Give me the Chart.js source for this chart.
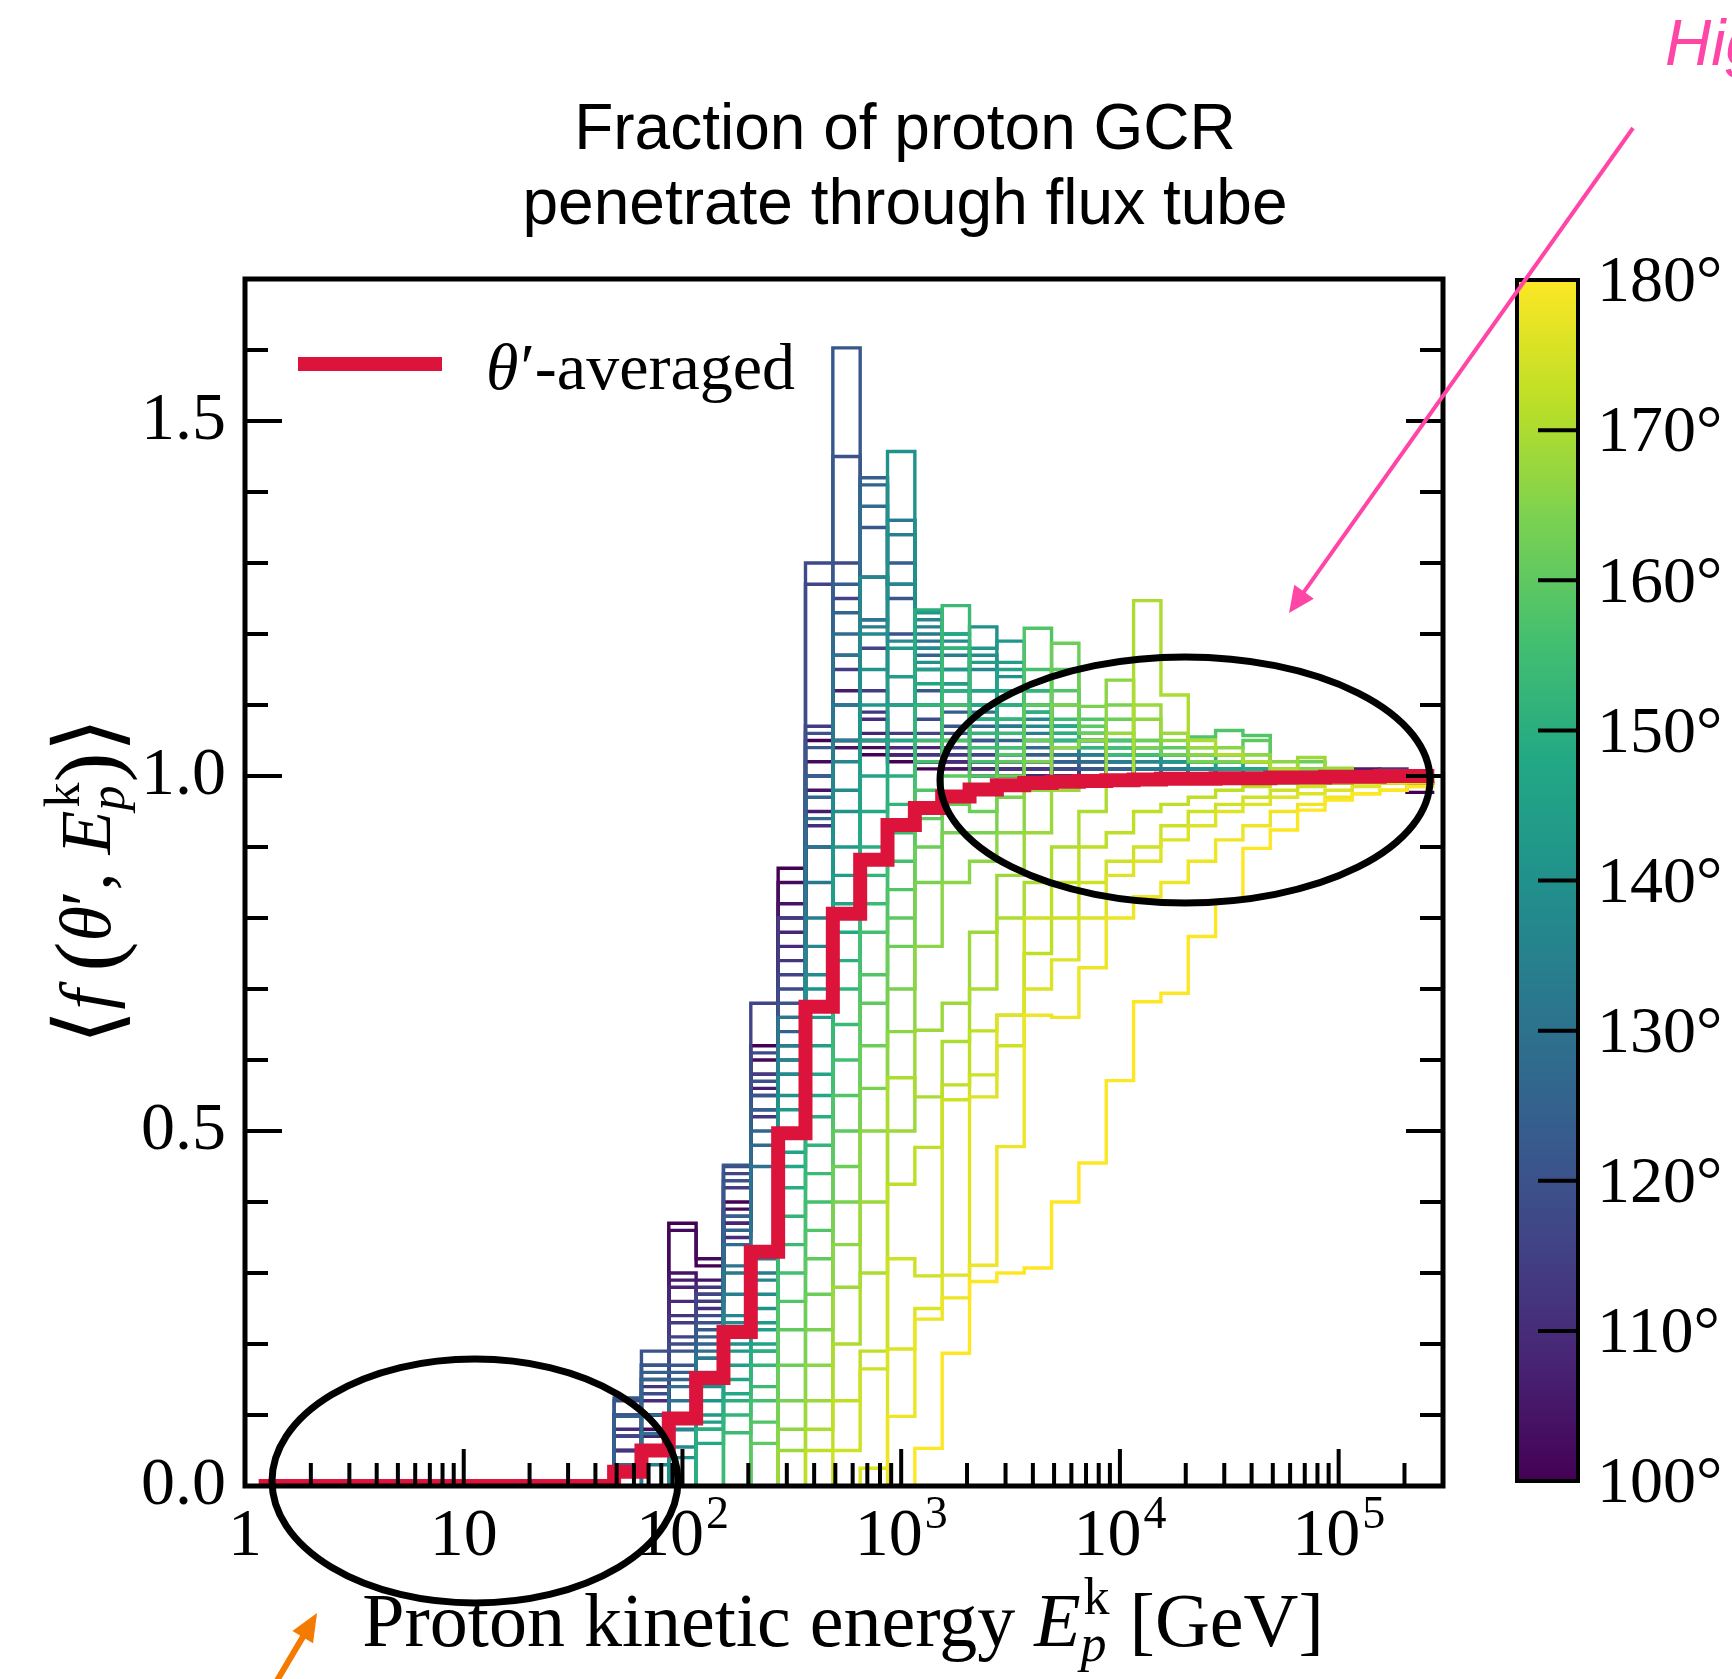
<!DOCTYPE html>
<html>
<head>
<meta charset="utf-8">
<title>Fraction of proton GCR penetrate through flux tube</title>
<script src="https://cdn.jsdelivr.net/npm/chart.js@4.4.1/dist/chart.umd.min.js"></script>
<style>
html,body{margin:0;padding:0;background:#ffffff;overflow:hidden;}
canvas{display:block;}
</style>
</head>
<body>
<canvas id="chart" width="1732" height="1679"></canvas>
<script>
// ================= DATA =================
// Energy bin edges [GeV] (8 bins per decade)
const binEdgesGeV = [
  1.1548, 1.5399, 2.0535, 2.7384, 3.6517, 4.8697, 6.4938, 8.6596,
  11.548, 15.399, 20.535, 27.384, 36.517, 48.697, 64.938, 86.596,
  115.48, 153.99, 205.35, 273.84, 365.17, 486.97, 649.38, 865.96,
  1154.8, 1539.9, 2053.5, 2738.4, 3651.7, 4869.7, 6493.8, 8659.6,
  11548, 15399, 20535, 27384, 36517, 48697, 64938, 86596,
  115480, 153990, 205350, 273840
];

// theta'-averaged fraction, one value per bin (43 bins)
const averagedFraction = [
  0,0,0,0,0,0,0,0,0,0,0,0,0,
  0.02,0.05,0.095,0.152,0.217,0.33,0.497,0.675,0.806,0.882,
  0.931,0.955,0.971,0.981,0.987,0.99,0.992,0.993,0.994,0.995,
  0.996,0.996,0.997,0.997,0.998,0.998,0.999,0.999,1.0,1.0
];

// theta' values of the individual curves [deg]
const thetaPrimeDeg = [100,102,104,106,108,110,112,114,116,118,120,122,124,126,128,130,
  132,134,136,138,140,142,144,146,148,150,152,154,156,158,160,162,164,166,168,170,
  172,174,176,178,180];

// individual curves list bins 13..43 (all curves are zero below bin 13)
const firstCurveBin = 13;
const f100 = [0,.07,.10,.37,.31,.40,.62,.87,1.05,1.04,1.03,1.02,1.01,1.02,1.01,1.00,1.00,1.01,1.00,.99,1.00,1.01,1.00,1.00,.99,1.00,1.00,1.01,1.00,1.00,.977];
const f102 = [0,.05,.08,.36,.32,.39,.60,.85,1.02,1.05,1.04,1.03,1.02,1.01,1.00,1.01,1.00,1.00,1.01,1.00,1.00,.99,1.00,1.01,1.00,1.00,1.00,.99,1.00,1.00,.99];
const f104 = [0,.07,.05,.30,.29,.37,.58,.82,.98,1.04,1.05,1.03,1.02,1.01,1.02,1.00,1.01,1.00,1.00,1.00,1.01,1.00,.99,1.00,1.00,1.01,1.00,1.00,1.00,.99,1.00];
const f106 = [0,.05,.10,.29,.27,.36,.56,.80,.95,1.12,1.05,1.04,1.02,1.03,1.01,1.01,1.00,1.00,1.00,1.01,1.00,1.00,1.00,.99,1.00,1.00,1.00,1.00,1.01,1.00,1.00];
const f108 = [0,.03,.07,.28,.26,.37,.55,.78,1.00,1.17,1.06,1.03,1.04,1.02,1.02,1.01,1.01,1.00,1.00,1.00,1.00,1.01,1.00,1.00,1.00,.99,1.00,1.00,1.00,1.00,1.00];
const f110 = [0,.08,.12,.26,.25,.35,.53,.76,.93,1.05,1.08,1.04,1.03,1.02,1.01,1.02,1.00,1.01,1.00,1.00,1.00,1.00,1.01,1.00,1.00,1.00,1.00,.99,1.00,1.00,1.00];
const f112 = [0,.05,.14,.24,.28,.38,.52,.74,.90,1.10,1.09,1.05,1.03,1.04,1.02,1.01,1.01,1.00,1.00,1.00,1.01,1.00,1.00,1.00,1.00,1.01,1.00,1.00,1.00,1.00,1.00];
const f114 = [0,.10,.15,.23,.26,.42,.58,.80,1.07,1.15,1.12,1.06,1.05,1.03,1.03,1.02,1.01,1.01,1.00,1.00,1.00,1.00,1.01,1.00,1.00,1.00,1.00,1.00,1.00,1.01,1.00];
const f116 = [0,.07,.17,.21,.27,.44,.68,.72,1.27,1.25,1.18,1.10,1.06,1.04,1.03,1.02,1.02,1.01,1.01,1.00,1.00,1.00,1.00,1.01,1.00,1.00,1.00,1.00,1.00,1.00,1.00];
const f118 = [0,.12,.13,.20,.24,.45,.61,.70,1.30,1.30,1.22,1.14,1.08,1.05,1.04,1.03,1.02,1.01,1.01,1.01,1.00,1.00,1.00,1.00,1.00,1.01,1.00,1.00,1.00,1.00,1.00];
const f120 = [0,.10,.19,.19,.23,.43,.57,.68,1.06,1.45,1.28,1.20,1.10,1.06,1.05,1.03,1.02,1.02,1.01,1.01,1.00,1.00,1.00,1.00,1.00,1.00,1.00,1.01,1.00,1.00,1.00];
const f122 = [0,.124,.17,.17,.22,.452,.55,.66,1.04,1.603,1.35,1.25,1.12,1.07,1.05,1.04,1.03,1.02,1.01,1.01,1.00,1.00,1.00,1.00,1.00,1.00,1.00,1.00,1.00,1.00,1.00];
const f124 = [0,.098,.16,.16,.21,.38,.53,.64,1.00,1.27,1.42,1.30,1.15,1.09,1.06,1.04,1.03,1.02,1.02,1.01,1.01,1.00,1.00,1.00,1.00,1.00,1.00,1.00,1.00,1.00,1.00];
const f126 = [0,.03,.15,.15,.20,.36,.50,.62,.97,1.23,1.41,1.34,1.17,1.10,1.07,1.05,1.04,1.03,1.02,1.01,1.01,1.00,1.00,1.00,1.00,1.00,1.00,1.00,1.00,1.00,1.00];
const f128 = [0,.03,.10,.14,.19,.34,.48,.60,.94,1.20,1.38,1.36,1.18,1.12,1.08,1.06,1.04,1.03,1.02,1.02,1.01,1.00,1.00,1.00,1.00,1.00,1.00,1.00,1.00,1.00,1.00];
const f130 = [0,0,.074,.12,.18,.31,.45,.58,.90,1.17,1.28,1.27,1.19,1.13,1.09,1.07,1.05,1.03,1.03,1.02,1.01,1.01,1.00,1.00,1.00,1.00,1.00,1.00,1.00,1.00,1.00];
const f132 = [0,0,.05,.10,.18,.30,.32,.66,.85,1.10,1.22,1.36,1.20,1.15,1.10,1.07,1.05,1.04,1.03,1.02,1.01,1.01,1.00,1.00,1.00,1.00,1.00,1.00,1.00,1.00,1.00];
const f134 = [0,0,.03,.08,.16,.27,.30,.62,.80,1.05,1.21,1.34,1.21,1.17,1.12,1.08,1.06,1.04,1.03,1.02,1.02,1.01,1.01,1.00,1.00,1.00,1.00,1.00,1.00,1.00,1.00];
const f136 = [0,0,0,.079,.15,.24,.29,.60,.76,1.02,1.28,1.27,1.22,1.18,1.15,1.10,1.07,1.05,1.04,1.03,1.02,1.02,1.01,1.01,1.00,1.00,1.00,1.00,1.00,1.00,1.00];
const f138 = [0,0,0,.055,.14,.23,.27,.58,.72,.98,1.20,1.19,1.18,1.19,1.17,1.12,1.08,1.06,1.04,1.03,1.03,1.02,1.01,1.01,1.00,1.00,1.00,1.00,1.00,1.00,1.00];
const f140 = [0,0,0,.04,.12,.20,.25,.55,.70,.95,1.15,1.457,1.16,1.20,1.21,1.14,1.10,1.07,1.05,1.04,1.03,1.02,1.02,1.01,1.01,1.00,1.00,1.00,1.00,1.00,1.00];
const f142 = [0,0,0,0,.10,.19,.23,.53,.66,.90,1.10,1.18,1.23,1.15,1.18,1.19,1.09,1.06,1.05,1.04,1.03,1.02,1.02,1.01,1.01,1.00,1.00,1.00,1.00,1.00,1.00];
const f144 = [0,0,0,0,.09,.17,.22,.50,.62,.86,1.05,1.14,1.15,1.13,1.16,1.16,1.10,1.07,1.05,1.04,1.03,1.03,1.02,1.01,1.01,1.00,1.00,1.00,1.00,1.00,1.00];
const f146 = [0,0,0,0,.08,.15,.20,.47,.58,.82,1.00,1.10,1.13,1.12,1.12,1.15,1.12,1.05,1.06,1.04,1.03,1.03,1.02,1.02,1.01,1.00,1.00,1.00,1.00,1.00,1.00];
const f148 = [0,0,0,0,.06,.13,.19,.45,.55,.78,.95,1.05,1.10,1.20,1.10,1.12,1.10,1.07,1.05,1.05,1.04,1.03,1.02,1.02,1.01,1.00,1.00,1.00,1.00,1.00,1.00];
const f150 = [0,0,0,0,.08,.12,.19,.42,.52,.74,.90,1.00,1.234,1.12,1.08,1.10,1.09,1.06,1.06,1.05,1.04,1.03,1.03,1.02,1.02,1.01,1.01,1.00,1.00,1.00,1.00];
const f152 = [0,0,0,0,0,.10,.17,.38,.48,.70,.86,.96,1.10,1.18,1.06,1.08,1.12,1.05,1.04,1.04,1.04,1.03,1.03,1.02,1.02,1.01,1.01,1.01,1.00,1.00,1.00];
const f154 = [0,0,0,0,0,.075,.14,.34,.44,.65,.82,.92,1.05,1.24,1.04,1.06,1.10,1.08,1.05,1.03,1.03,1.04,1.03,1.03,1.02,1.01,1.01,1.00,1.00,1.00,1.00];
const f156 = [0,0,0,0,0,0,.12,.30,.40,.60,.78,.88,1.02,1.10,1.02,1.04,1.15,1.10,1.06,1.04,1.03,1.03,1.04,1.03,1.02,1.01,1.00,1.00,1.00,1.00,1.00];
const f158 = [0,0,0,0,0,0,.09,.26,.36,.55,.72,.84,.98,1.05,1.00,1.03,1.208,1.12,1.08,1.05,1.04,1.03,1.055,1.064,1.057,1.01,1.01,1.00,1.00,1.00,1.00];
const f160 = [0,0,0,0,0,0,.06,.22,.32,.50,.68,.80,.94,1.00,.98,1.02,1.10,1.15,1.07,1.06,1.05,1.04,1.04,1.04,1.05,1.01,1.00,1.00,1.00,1.00,1.00];
const f162 = [0,0,0,0,0,0,0,.17,.27,.45,.62,.76,.90,.96,.95,1.00,1.05,1.187,1.06,1.08,1.05,1.03,1.03,1.03,1.03,1.01,1.02,1.01,1.00,1.00,1.00];
const f164 = [0,0,0,0,0,0,0,.12,.22,.40,.56,.70,.85,.92,.92,.97,1.02,1.10,1.098,1.10,1.04,1.06,1.02,1.02,1.02,1.01,1.01,1.00,1.00,1.00,1.00];
const f166 = [0,0,0,0,0,0,0,.08,.17,.34,.50,.64,.76,.85,.88,.92,.98,1.04,1.05,1.135,1.08,1.05,1.03,1.04,1.03,1.02,1.01,1.01,1.00,1.00,1.00];
const f168 = [0,0,0,0,0,0,0,.05,.12,.28,.40,.50,.642,.68,.78,.86,.92,.98,1.00,1.06,1.10,1.06,1.04,1.03,1.02,1.01,1.026,1.011,1.005,1.00,1.00];
const f170 = [0,0,0,0,0,0,0,0,.08,.20,.30,.575,.548,.626,.70,.80,.85,.90,.95,1.00,1.247,1.114,1.05,1.03,1.02,1.01,1.00,1.00,1.00,.99,1.00];
const f172 = [0,0,0,0,0,0,0,0,.05,.12,.19,.425,.477,.565,.641,.663,.75,.85,.90,.92,.95,.96,.97,.98,.985,.99,.99,.995,1.00,1.00,1.00];
const f174 = [0,0,0,0,0,0,0,0,0,.05,.165,.32,.296,.544,.579,.62,.80,.80,.85,.88,.90,.93,.95,.96,.97,.98,.985,.99,.99,.995,.995];
const f176 = [0,0,0,0,0,0,0,0,0,0,.025,.193,.25,.297,.548,.663,.70,.741,.80,.86,.88,.91,.93,.95,.96,.97,.975,.98,.985,.99,.99];
const f178 = [0,0,0,0,0,0,0,0,0,0,0,.098,.235,.265,.311,.478,.663,.66,.73,.80,.83,.85,.88,.91,.93,.95,.96,.97,.975,.98,.985];
const f180 = [0,0,0,0,0,0,0,0,0,0,0,0,.053,.187,.288,.30,.307,.40,.455,.571,.682,.694,.774,.825,.898,.924,.952,.966,.975,.98,.985];
const thetaCurves = [f100,f102,f104,f106,f108,f110,f112,f114,f116,f118,f120,f122,f124,f126,f128,f130,
  f132,f134,f136,f138,f140,f142,f144,f146,f148,f150,f152,f154,f156,f158,f160,f162,f164,f166,f168,f170,
  f172,f174,f176,f178,f180];

// axis / tick labels
const yMajorTicks = [0, 0.5, 1.0, 1.5];
const yTickLabels = ['0.0', '0.5', '1.0', '1.5'];
const xMajorTicks = [1, 10, 100, 1000, 10000, 100000];
const xTickMantissa = ['1', '10', '10', '10', '10', '10'];
const xTickExponent = ['', '', '2', '3', '4', '5'];
const xMinorMultipliers = [2, 3, 4, 5, 6, 7, 8, 9];
const colorbarTicksDeg = [100, 110, 120, 130, 140, 150, 160, 170, 180];
const colorbarRange = [100, 180];
const titleLines = ['Fraction of proton GCR', 'penetrate through flux tube'];
const legendText = '-averaged';
const annotationText = 'High';

// ================= STYLE =================
const SERIF = '"Liberation Serif", "DejaVu Serif", serif';
const SANS = '"Liberation Sans", Arial, sans-serif';
const VIRIDIS = ['#440154','#482475','#414487','#355f8d','#2a788e','#21918c','#22a884','#44bf70','#7ad151','#bddf26','#fde725'];
function hexRgb(h){ return [parseInt(h.substr(1,2),16), parseInt(h.substr(3,2),16), parseInt(h.substr(5,2),16)]; }
function viridis(t){
  t = Math.max(0, Math.min(1, t));
  const s = t * 10, i = Math.min(9, Math.floor(s)), f = s - i;
  const a = hexRgb(VIRIDIS[i]), b = hexRgb(VIRIDIS[i+1]);
  return 'rgb(' + [0,1,2].map(k => Math.round(a[k] + (b[k]-a[k])*f)).join(',') + ')';
}
const RED = '#dc143c';

// ================= DATASETS =================
// each value holds from its bin's left edge to the next edge
const datasets = [];
const startIdx = firstCurveBin - 1;
thetaCurves.forEach((vals, i) => {
  const pts = vals.map((v, j) => ({x: binEdgesGeV[startIdx + j], y: v}));
  pts.push({x: binEdgesGeV[startIdx + vals.length], y: vals[vals.length - 1]});
  datasets.push({
    label: thetaPrimeDeg[i] + '°',
    data: pts,
    borderColor: viridis((thetaPrimeDeg[i] - colorbarRange[0]) / (colorbarRange[1] - colorbarRange[0])),
    borderWidth: 3.4,
    stepped: 'before',
    pointRadius: 0,
    fill: false,
    clip: 0,
    order: thetaCurves.length - i + 1
  });
});
const avgPts = averagedFraction.map((v, i) => ({x: binEdgesGeV[i], y: v}));
avgPts.push({x: binEdgesGeV[averagedFraction.length], y: averagedFraction[averagedFraction.length - 1]});
datasets.push({
  label: "θ′-averaged",
  data: avgPts,
  borderColor: RED,
  borderWidth: 14,
  stepped: 'before',
  pointRadius: 0,
  fill: false,
  clip: 0,
  order: 0
});

// ================= DRAW HELPERS =================
function measureParts(ctx, parts){
  return parts.map(p => {
    if (p.sup !== undefined) {
      ctx.font = p.supFont; const a = ctx.measureText(p.sup).width;
      ctx.font = p.subFont; const b = ctx.measureText(p.sub).width;
      return Math.max(a, b) + (p.pad || 0);
    }
    ctx.font = p.font; return ctx.measureText(p.text).width;
  });
}
function drawParts(ctx, parts, cx, baseY){
  const ws = measureParts(ctx, parts);
  const tot = ws.reduce((s, w) => s + w, 0);
  let x = cx - tot / 2;
  ctx.textAlign = 'left'; ctx.textBaseline = 'alphabetic';
  parts.forEach((p, i) => {
    if (p.sup !== undefined) {
      ctx.font = p.supFont; ctx.fillText(p.sup, x + (p.supDx || 0), baseY + p.supDy);
      ctx.font = p.subFont; ctx.fillText(p.sub, x, baseY + p.subDy);
    } else {
      ctx.font = p.font; ctx.fillText(p.text, x, baseY + (p.dy || 0));
    }
    x += ws[i];
  });
}
function arrow(ctx, x0, y0, x1, y1, lw, headLen, headHalf, color){
  const dx = x1 - x0, dy = y1 - y0, L = Math.hypot(dx, dy), ux = dx / L, uy = dy / L;
  const bx = x1 - ux * headLen, by = y1 - uy * headLen;
  ctx.save();
  ctx.strokeStyle = color; ctx.fillStyle = color; ctx.lineWidth = lw; ctx.lineCap = 'butt';
  ctx.beginPath(); ctx.moveTo(x0, y0); ctx.lineTo(bx + ux * 2, by + uy * 2); ctx.stroke();
  ctx.beginPath(); ctx.moveTo(x1, y1);
  ctx.lineTo(bx - uy * headHalf, by + ux * headHalf);
  ctx.lineTo(bx + uy * headHalf, by - ux * headHalf);
  ctx.closePath(); ctx.fill();
  ctx.restore();
}

const decorPlugin = {
  id: 'decor',
  beforeDraw(chart){
    const ctx = chart.ctx;
    ctx.save(); ctx.fillStyle = '#fff'; ctx.fillRect(0, 0, chart.width, chart.height); ctx.restore();
  },
  afterDatasetsDraw(chart){
    const ctx = chart.ctx, a = chart.chartArea, xs = chart.scales.x, ys = chart.scales.y;
    ctx.save();
    ctx.strokeStyle = '#000'; ctx.lineWidth = 4; ctx.lineCap = 'butt';
    const seg = (x0, y0, x1, y1) => { ctx.beginPath(); ctx.moveTo(x0, y0); ctx.lineTo(x1, y1); ctx.stroke(); };
    ys.ticks.forEach(t => {
      const py = ys.getPixelForValue(t.value);
      const major = yMajorTicks.some(m => Math.abs(m - t.value) < 1e-6);
      const len = major ? 37 : 23;
      seg(a.left, py, a.left + len, py);
      seg(a.right, py, a.right - len, py);
    });
    xMajorTicks.forEach(d => {
      const px = xs.getPixelForValue(d);
      if (px > a.left + 2 && px < a.right - 2) seg(px, a.bottom, px, a.bottom - 37);
      xMinorMultipliers.forEach(m => {
        const v = m * d;
        if (v < xs.max) { const p = xs.getPixelForValue(v); seg(p, a.bottom, p, a.bottom - 23); }
      });
    });
    ctx.lineWidth = 5;
    ctx.strokeRect(a.left, a.top, a.right - a.left, a.bottom - a.top);
    ctx.restore();
  },
  afterDraw(chart){
    const ctx = chart.ctx, a = chart.chartArea, xs = chart.scales.x;
    ctx.save();
    ctx.fillStyle = '#000';
    // x tick labels
    xMajorTicks.forEach((d, i) => {
      const px = xs.getPixelForValue(d);
      ctx.font = '68px ' + SERIF; const w1 = ctx.measureText(xTickMantissa[i]).width;
      ctx.font = '46px ' + SERIF; const w2 = xTickExponent[i] ? ctx.measureText(xTickExponent[i]).width + 2 : 0;
      const x0 = px - (w1 + w2) / 2;
      ctx.textAlign = 'left'; ctx.textBaseline = 'alphabetic';
      ctx.font = '68px ' + SERIF; ctx.fillText(xTickMantissa[i], x0, a.bottom + 69);
      if (w2) { ctx.font = '46px ' + SERIF; ctx.fillText(xTickExponent[i], x0 + w1 + 2, a.bottom + 42); }
    });
    // title
    ctx.font = '64px ' + SANS; ctx.textAlign = 'center'; ctx.textBaseline = 'alphabetic';
    ctx.fillText(titleLines[0], 905, 149);
    ctx.fillText(titleLines[1], 905, 224);
    // x axis title
    drawParts(ctx, [
      {text: 'Proton kinetic energy ', font: '76px ' + SERIF},
      {text: 'E', font: 'italic 76px ' + SERIF},
      {sup: 'k', sub: 'p', supFont: '52px ' + SERIF, subFont: 'italic 52px ' + SERIF, supDy: -32, subDy: 15, supDx: 3, pad: 4},
      {text: ' [GeV]', font: '76px ' + SERIF}
    ], 843, 1646);
    // y axis title (rotated)
    ctx.save();
    ctx.translate(110, 881); ctx.rotate(-Math.PI / 2);
    drawParts(ctx, [
      {text: '⟨', font: '90px ' + SERIF, dy: 8},
      {text: 'f ', font: 'italic 72px ' + SERIF},
      {text: '(', font: '90px ' + SERIF, dy: 8},
      {text: 'θ', font: 'italic 72px ' + SERIF},
      {text: '′, ', font: '72px ' + SERIF},
      {text: 'E', font: 'italic 72px ' + SERIF},
      {sup: 'k', sub: 'p', supFont: '50px ' + SERIF, subFont: 'italic 50px ' + SERIF, supDy: -31, subDy: 14, supDx: 3, pad: 3},
      {text: ')', font: '90px ' + SERIF, dy: 8},
      {text: '⟩', font: '90px ' + SERIF, dy: 8}
    ], 0, 0);
    ctx.restore();
    // legend
    ctx.strokeStyle = RED; ctx.lineWidth = 14; ctx.lineCap = 'butt';
    ctx.beginPath(); ctx.moveTo(298, 364); ctx.lineTo(442, 364); ctx.stroke();
    ctx.fillStyle = '#000'; ctx.textAlign = 'left';
    ctx.font = 'italic 66px ' + SERIF; ctx.fillText('θ', 486, 389);
    const wt = ctx.measureText('θ').width;
    ctx.font = '66px ' + SERIF; ctx.fillText('′' + legendText, 486 + wt + 2, 389);
    // colorbar
    const cbL = 1517, cbR = 1578, cbT = 280, cbB = 1481;
    const grad = ctx.createLinearGradient(0, cbB, 0, cbT);
    VIRIDIS.forEach((c, i) => grad.addColorStop(i / (VIRIDIS.length - 1), c));
    ctx.fillStyle = grad; ctx.fillRect(cbL, cbT, cbR - cbL, cbB - cbT);
    ctx.strokeStyle = '#000'; ctx.lineWidth = 4; ctx.strokeRect(cbL, cbT, cbR - cbL, cbB - cbT);
    ctx.fillStyle = '#000'; ctx.font = '66px ' + SERIF; ctx.textAlign = 'left'; ctx.textBaseline = 'middle';
    colorbarTicksDeg.forEach(d => {
      const py = cbB - (d - colorbarRange[0]) / (colorbarRange[1] - colorbarRange[0]) * (cbB - cbT);
      if (d > colorbarRange[0] && d < colorbarRange[1]) {
        ctx.beginPath(); ctx.moveTo(cbR, py); ctx.lineTo(cbR - 40, py); ctx.stroke();
      }
      ctx.fillText(d + '°', 1597, py + 4);
    });
    // annotations
    ctx.textBaseline = 'alphabetic';
    ctx.fillStyle = '#ff45a5'; ctx.font = 'italic 64px ' + SANS; ctx.textAlign = 'left';
    ctx.fillText(annotationText, 1665, 65);
    arrow(ctx, 1633, 128, 1289, 613, 4, 26, 12, '#ff45a5');
    arrow(ctx, 262, 1706, 317, 1613, 6, 28, 12, '#f57a00');
    ctx.strokeStyle = '#000'; ctx.lineWidth = 7;
    ctx.beginPath(); ctx.ellipse(1185, 780, 245, 123, 0, 0, Math.PI * 2); ctx.stroke();
    ctx.beginPath(); ctx.ellipse(475, 1481, 203, 122, 0, 0, Math.PI * 2); ctx.stroke();
    ctx.restore();
  }
};

new Chart(document.getElementById('chart'), {
  type: 'line',
  data: {datasets},
  options: {
    responsive: false,
    devicePixelRatio: 1,
    animation: false,
    events: [],
    layout: {padding: {left: 0, top: 279, right: 289, bottom: 193}},
    plugins: {legend: {display: false}, tooltip: {enabled: false}, title: {display: false}},
    elements: {line: {tension: 0}, point: {radius: 0}},
    scales: {
      x: {
        type: 'logarithmic', min: 1, max: 3.0e5,
        grid: {display: false, drawTicks: false}, border: {display: false},
        ticks: {display: false},
        afterFit(s){ s.height = 0; }
      },
      y: {
        type: 'linear', min: 0, max: 1.7,
        grid: {display: false, drawTicks: false}, border: {display: false},
        ticks: {
          stepSize: 0.1, autoSkip: false, padding: 19, color: '#000',
          font: {family: '"Liberation Serif", "DejaVu Serif", serif', size: 68},
          callback: (v) => {
            const i = yMajorTicks.findIndex(m => Math.abs(m - v) < 1e-6);
            return i >= 0 ? yTickLabels[i] : '';
          }
        },
        afterFit(s){ s.width = 245; }
      }
    }
  },
  plugins: [decorPlugin]
});
</script>
</body>
</html>
